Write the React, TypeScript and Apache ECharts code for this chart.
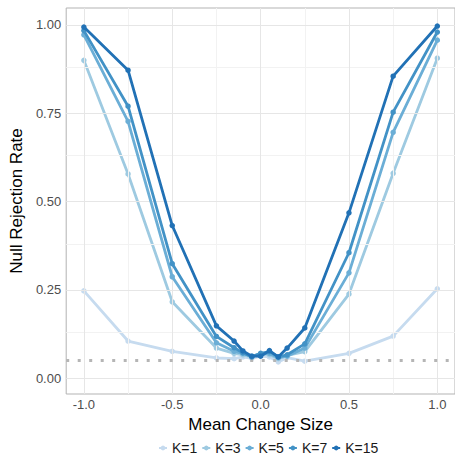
import React, { useEffect, useRef } from "react";
import * as echarts from "echarts";

const xValues = [-1, -0.75, -0.5, -0.25, -0.15, -0.1, -0.05, 0, 0.05, 0.1, 0.15, 0.25, 0.5, 0.75, 1];

const seriesNames = ["K=1", "K=3", "K=5", "K=7", "K=15"];
const k1 = [0.247, 0.105, 0.076, 0.057, 0.055, 0.06, 0.056, 0.062, 0.06, 0.046, 0.058, 0.048, 0.07, 0.119, 0.253];
const k3 = [0.9, 0.578, 0.216, 0.085, 0.07, 0.066, 0.06, 0.07, 0.066, 0.055, 0.064, 0.075, 0.238, 0.58, 0.906];
const k5 = [0.972, 0.727, 0.287, 0.1, 0.076, 0.07, 0.062, 0.068, 0.07, 0.058, 0.062, 0.085, 0.298, 0.696, 0.957];
const k7 = [0.984, 0.77, 0.324, 0.118, 0.086, 0.072, 0.06, 0.07, 0.075, 0.06, 0.066, 0.097, 0.355, 0.753, 0.98];
const k15 = [0.994, 0.872, 0.432, 0.148, 0.105, 0.077, 0.062, 0.062, 0.078, 0.06, 0.085, 0.142, 0.468, 0.855, 0.997];
const seriesValues = [k1, k3, k5, k7, k15];
const colors = ["#c6dbef", "#9ecae1", "#6baed6", "#4292c6", "#2171b5"];

const xMajor = [-1, -0.5, 0, 0.5, 1];
const xMinor = [-0.75, -0.25, 0.25, 0.75];
const yMajor = [0, 0.25, 0.5, 0.75, 1];
const yMinor = [0.125, 0.375, 0.625, 0.875];
const refLevel = 0.05;

const FONT = "'Liberation Sans', Arial, sans-serif";

export default function App() {
  const ref = useRef<HTMLDivElement>(null);
  useEffect(() => {
    if (!ref.current) return;
    const chart = echarts.init(ref.current, undefined, { renderer: "svg" });
    const gridLines: any[] = [];
    xMinor.forEach((v) => gridLines.push({ xAxis: v, lineStyle: { color: "#f2f2f2", width: 1, type: "solid" } }));
    yMinor.forEach((v) => gridLines.push({ yAxis: v, lineStyle: { color: "#f2f2f2", width: 1, type: "solid" } }));
    xMajor.forEach((v) => gridLines.push({ xAxis: v, lineStyle: { color: "#e6e6e6", width: 1, type: "solid" } }));
    yMajor.forEach((v) => gridLines.push({ yAxis: v, lineStyle: { color: "#e6e6e6", width: 1, type: "solid" } }));
    gridLines.push({ yAxis: refLevel, lineStyle: { color: "#b5b5b5", width: 3, type: [3, 8.5] } });

    const series: any[] = [
      {
        name: "__grid",
        type: "line",
        data: [],
        z: 1,
        silent: true,
        markLine: {
          silent: true,
          symbol: ["none", "none"],
          label: { show: false },
          animation: false,
          data: gridLines,
        },
      },
    ];
    seriesNames.forEach((name, i) => {
      series.push({
        name,
        type: "line",
        z: 3 + i,
        data: xValues.map((x, j) => [x, seriesValues[i][j]]),
        symbol: "circle",
        symbolSize: 5.5,
        lineStyle: { width: 2.8, color: colors[i] },
        itemStyle: { color: colors[i] },
      });
    });

    chart.setOption({
      animation: false,
      textStyle: { fontFamily: FONT },
      grid: {
        left: 62,
        right: -7,
        top: 8,
        bottom: 64,
        show: true,
        borderColor: "#b3b3b3",
        borderWidth: 1,
        backgroundColor: "transparent",
      },
      legend: {
        data: seriesNames,
        left: 156,
        top: 439,
        itemWidth: 8,
        itemHeight: 6,
        itemGap: 4,
        padding: 2,
        textStyle: { fontSize: 14, color: "#1a1a1a", fontFamily: FONT },
      },
      xAxis: {
        type: "value",
        min: -1.1,
        max: 1.1,
        name: "Mean Change Size",
        nameLocation: "middle",
        nameGap: 15,
        nameTextStyle: { fontSize: 17, color: "#000", fontFamily: FONT },
        axisLine: { show: false },
        axisTick: { show: true, length: 3, lineStyle: { color: "#b3b3b3" }, customValues: xMajor },
        axisLabel: {
          customValues: xMajor,
          formatter: (v: number) => v.toFixed(1),
          fontSize: 13,
          color: "#4d4d4d",
          margin: 4,
          fontFamily: FONT,
        },
        splitLine: { show: false },
      },
      yAxis: {
        type: "value",
        min: -0.045,
        max: 1.048,
        name: "Null Rejection Rate",
        nameLocation: "middle",
        nameGap: 32,
        nameTextStyle: { fontSize: 17, color: "#000", fontFamily: FONT },
        axisLine: { show: false },
        axisTick: { show: true, length: 3, lineStyle: { color: "#b3b3b3" }, customValues: yMajor },
        axisLabel: {
          customValues: yMajor,
          formatter: (v: number) => v.toFixed(2),
          fontSize: 13,
          color: "#4d4d4d",
          margin: 5,
          fontFamily: FONT,
        },
        splitLine: { show: false },
      },
      series,
    });
    return () => chart.dispose();
  }, []);
  return <div ref={ref} style={{ width: 455, height: 458, position: "absolute", left: 0, top: 0 }} />;
}
